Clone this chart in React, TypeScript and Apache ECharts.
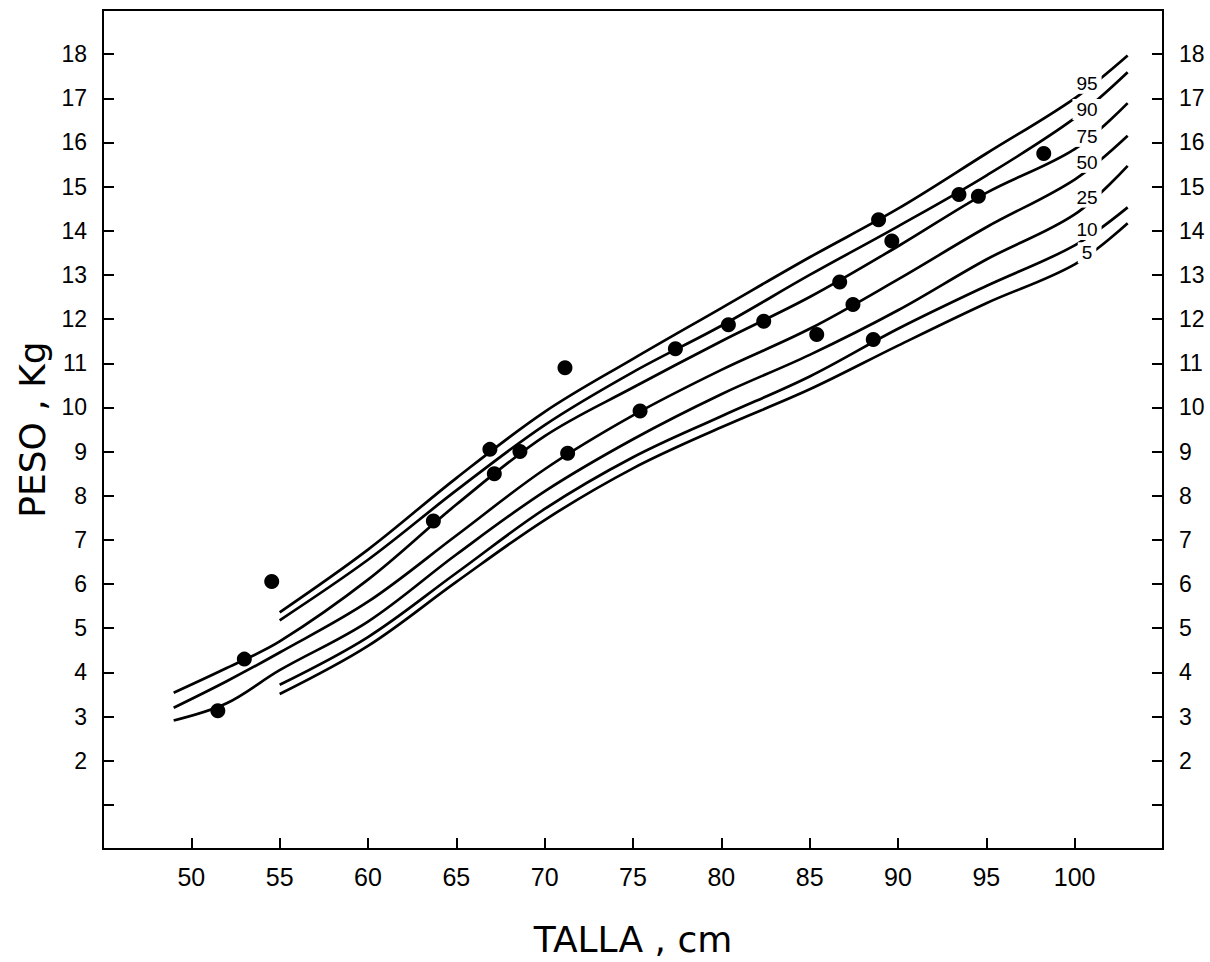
import React, { useEffect, useRef } from 'react';
import * as echarts from 'echarts';

// Talla (cm) positions where the percentile curves were read
const xLong = [49, 52, 55, 60, 65, 70, 75, 80, 85, 90, 95, 100, 103];
const xShort = [55, 60, 65, 70, 75, 80, 85, 90, 95, 100, 103];

// Percentile curves (peso, kg)
const p95 = [5.36, 6.78, 8.4, 9.9, 11.1, 12.25, 13.4, 14.5, 15.75, 17.0, 17.97];
const p90 = [5.18, 6.55, 8.12, 9.6, 10.8, 11.85, 13.0, 14.1, 15.25, 16.55, 17.59];
const p75 = [3.54, 4.1, 4.7, 6.1, 7.8, 9.35, 10.45, 11.5, 12.5, 13.65, 14.86, 15.85, 16.89];
const p50 = [3.2, 3.8, 4.45, 5.6, 7.1, 8.6, 9.82, 10.85, 11.78, 12.9, 14.08, 15.16, 16.15];
const p25 = [2.91, 3.3, 4.05, 5.15, 6.67, 8.1, 9.28, 10.3, 11.19, 12.2, 13.35, 14.37, 15.47];
const p10 = [3.72, 4.8, 6.25, 7.7, 8.87, 9.8, 10.7, 11.78, 12.75, 13.67, 14.53];
const p5 = [3.51, 4.6, 6.05, 7.45, 8.62, 9.55, 10.41, 11.4, 12.36, 13.24, 14.17];

const curveNames = ['95', '90', '75', '50', '25', '10', '5'];
const curveValues = [p95, p90, p75, p50, p25, p10, p5];
const curveX = [xShort, xShort, xLong, xLong, xLong, xShort, xShort];
const labelAtX = 100.7;

// Observed children (talla cm, peso kg)
const childTalla = [51.5, 53.0, 54.55, 63.7, 66.9, 67.15, 68.6, 71.15, 71.3, 75.4, 77.4, 80.4, 82.4, 85.4, 86.7, 87.45, 88.6, 88.9, 89.65, 93.45, 94.55, 98.25];
const childPeso = [3.13, 4.3, 6.06, 7.43, 9.05, 8.5, 9.0, 10.9, 8.96, 9.92, 11.33, 11.87, 11.95, 11.65, 12.84, 12.33, 11.54, 14.25, 13.77, 14.82, 14.78, 15.75];

const yTickLabels = ['2', '3', '4', '5', '6', '7', '8', '9', '10', '11', '12', '13', '14', '15', '16', '17', '18'];
const xTickLabels = ['50', '55', '60', '65', '70', '75', '80', '85', '90', '95', '100'];

const FONT = 'Liberation Sans';
const TITLE_FONT = 'DejaVu Sans';

function interp(xs: number[], ys: number[], x: number): number {
  for (let i = 0; i < xs.length - 1; i++) {
    if (x >= xs[i] && x <= xs[i + 1]) {
      const t = (x - xs[i]) / (xs[i + 1] - xs[i]);
      return ys[i] + t * (ys[i + 1] - ys[i]);
    }
  }
  return ys[ys.length - 1];
}

export default function App() {
  const ref = useRef<HTMLDivElement>(null);
  useEffect(() => {
    document.body.style.margin = '0';
    if (!ref.current) return;
    const chart = echarts.init(ref.current, null, { renderer: 'svg' });

    // vertical nudges (px) of the percentile labels, as placed in the original
    const labelNudge = [-5, 2, -2, -7, -6, -7, -2];

    const axisCommon = {
      type: 'value',
      axisLine: { show: true, onZero: false, lineStyle: { color: '#000', width: 2 } },
      axisTick: { show: true, inside: true, length: 11, lineStyle: { color: '#000', width: 2 } },
      splitLine: { show: false },
    };

    const yLabelFmt = (v: number) => (yTickLabels.includes(String(v)) ? String(v) : '');

    const lineSeries = curveNames.map((name, i) => ({
      type: 'line',
      name,
      data: curveX[i].map((x, j) => [x, curveValues[i][j]]),
      showSymbol: false,
      symbol: 'none',
      smooth: 0.35,
      lineStyle: { color: '#000', width: 2.7, opacity: 1 },
      z: 2,
    }));

    const labelSeries = {
      type: 'scatter',
      name: 'labels',
      symbolSize: 0,
      z: 10,
      itemStyle: { opacity: 1 },
      data: curveNames.map((name, i) => ({
        value: [labelAtX, interp(curveX[i], curveValues[i], labelAtX)],
        name,
        label: { offset: [0, labelNudge[i]] },
      })),
      label: {
        show: true,
        position: 'inside',
        formatter: (p: any) => p.name,
        color: '#000',
        opacity: 1,
        fontFamily: FONT,
        fontSize: 19,
        lineHeight: 19,
        backgroundColor: '#fff',
        padding: [1, 4],
      },
    };

    const dots = {
      type: 'scatter',
      name: 'niños',
      symbol: 'circle',
      symbolSize: 15,
      itemStyle: { color: '#000', opacity: 1 },
      data: childTalla.map((t, i) => [t, childPeso[i]]),
      z: 5,
    };

    chart.setOption({
      animation: false,
      backgroundColor: '#fff',
      grid: {
        left: 103, right: 47, top: 10, bottom: 110,
        show: true, borderColor: '#000', borderWidth: 2, backgroundColor: 'transparent',
      },
      xAxis: {
        ...axisCommon,
        min: 45, max: 105, interval: 5,
        axisLabel: {
          formatter: (v: number) => (xTickLabels.includes(String(v)) ? String(v) : ''),
          fontSize: 25, color: '#000', margin: 15, fontFamily: FONT,
        },
        name: 'TALLA , cm',
        nameLocation: 'middle',
        nameGap: 72,
        nameTextStyle: { fontSize: 36, color: '#000', fontFamily: TITLE_FONT },
      },
      yAxis: [
        {
          ...axisCommon,
          position: 'left',
          min: 0, max: 19, interval: 1,
          axisLabel: { formatter: yLabelFmt, fontSize: 23, color: '#000', margin: 16, fontFamily: FONT },
          name: 'PESO , Kg',
          nameLocation: 'middle',
          nameGap: 52,
          nameRotate: 90,
          nameTextStyle: { fontSize: 36, color: '#000', fontFamily: TITLE_FONT },
        },
        {
          ...axisCommon,
          position: 'right',
          min: 0, max: 19, interval: 1,
          axisLabel: { formatter: yLabelFmt, fontSize: 23, color: '#000', margin: 16, fontFamily: FONT },
        },
      ],
      series: [...lineSeries, dots, labelSeries],
    });

    return () => chart.dispose();
  }, []);

  return <div ref={ref} style={{ width: 1210, height: 962 }} />;
}
